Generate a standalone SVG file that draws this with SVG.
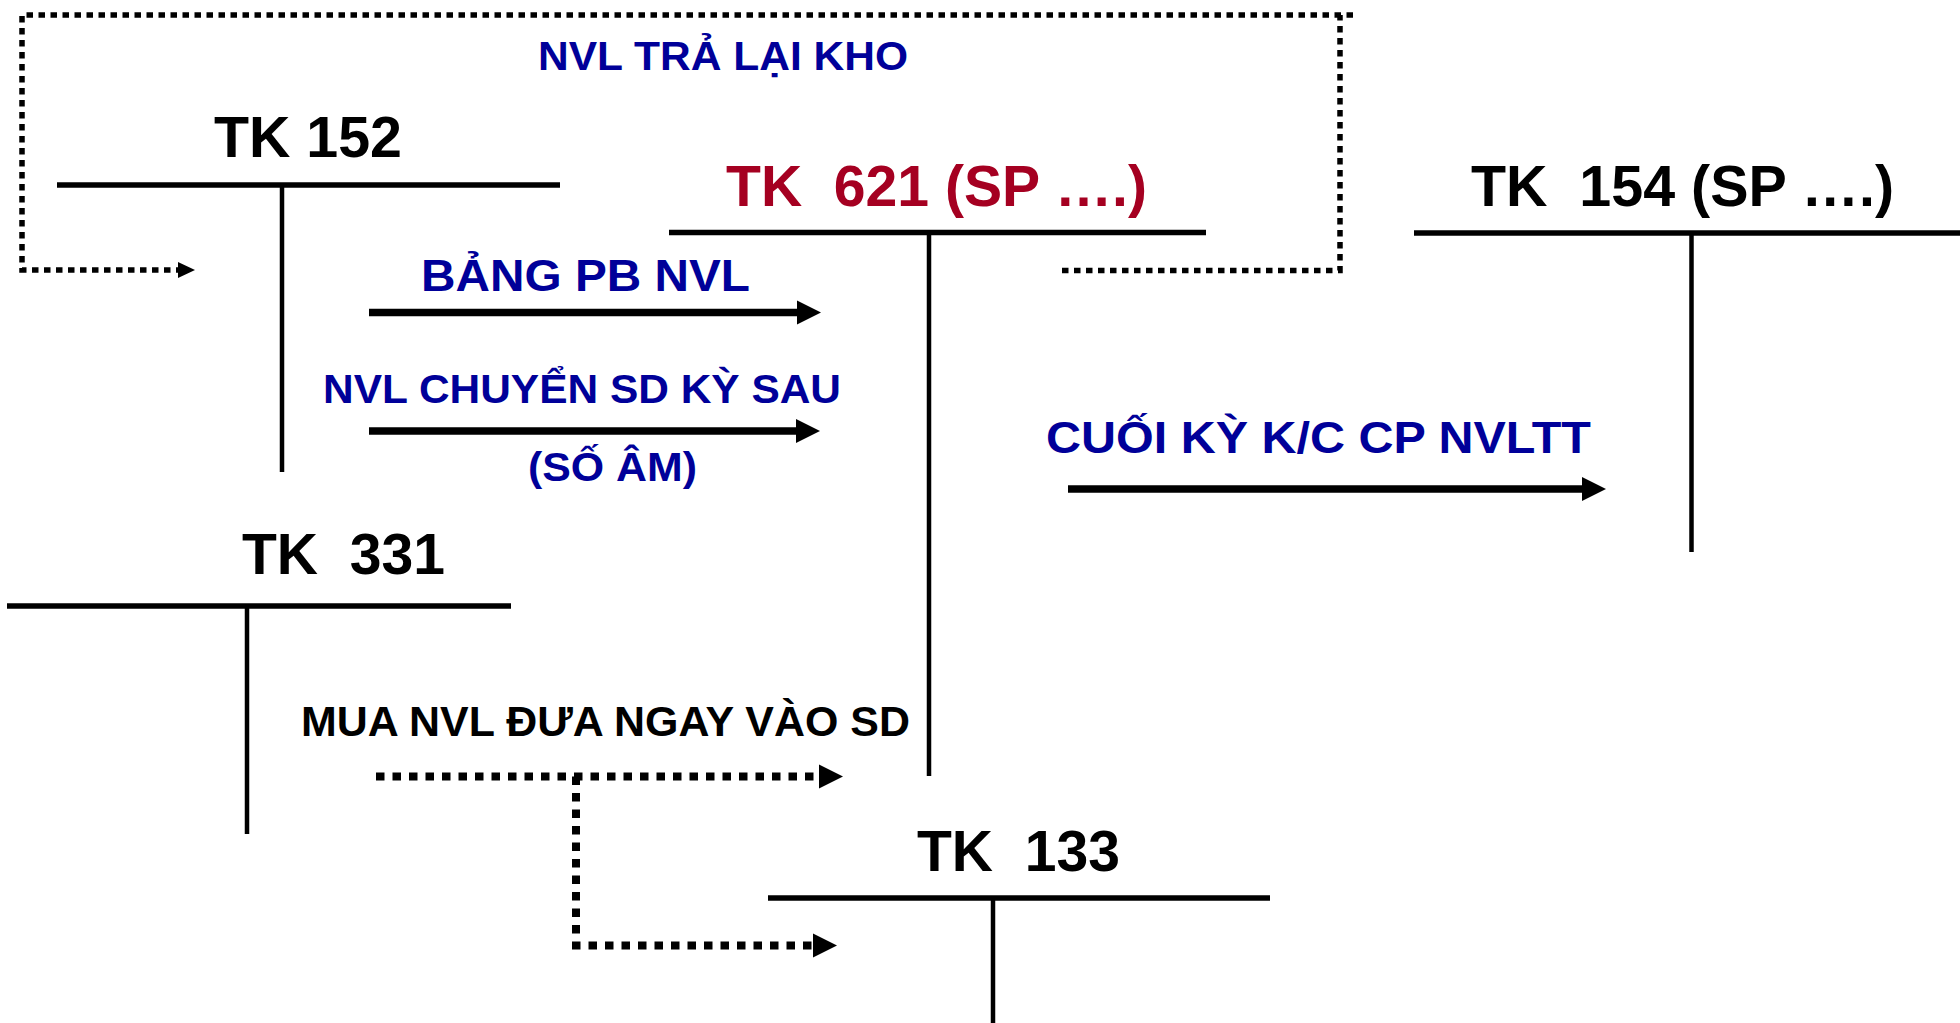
<svg xmlns="http://www.w3.org/2000/svg" width="1960" height="1023" viewBox="0 0 1960 1023">
<style>
text{font-family:"Liberation Sans",Arial,sans-serif;font-weight:bold;white-space:pre}
.tk{font-size:57px;fill:#000}
.red{fill:#A50021}
.lbl{font-size:41px;fill:#000099}
.big{font-size:44px}
.blk{font-size:43px;fill:#000}
.hl{stroke:#000;stroke-width:5.5;fill:none}
.vl{stroke:#000;stroke-width:4.5;fill:none}
.sol{stroke:#000;stroke-width:7.5;fill:none}
.dot1{stroke:#000;stroke-width:5.5;stroke-dasharray:6.5 5.5;fill:none}
.dot2{stroke:#000;stroke-width:8;stroke-dasharray:8.5 8;fill:none}
</style>
<defs>
<marker id="ah" markerUnits="userSpaceOnUse" markerWidth="26" markerHeight="26" refX="0" refY="12" orient="auto" overflow="visible">
<path d="M0,0 L24,12 L0,24 Z" fill="#000"/>
</marker>
<marker id="ahs" markerUnits="userSpaceOnUse" markerWidth="18" markerHeight="18" refX="0" refY="8" orient="auto" overflow="visible">
<path d="M0,0 L17,8 L0,16 Z" fill="#000"/>
</marker>
</defs>
<g id="tk152">
<text class="tk" x="214" y="157" textLength="188" lengthAdjust="spacingAndGlyphs">TK 152</text>
<line class="hl" x1="57" y1="185" x2="560" y2="185"/>
<line class="vl" x1="282" y1="185" x2="282" y2="472"/>
</g>
<g id="tk621">
<text class="tk red" x="726" y="206" textLength="421" lengthAdjust="spacingAndGlyphs">TK  621 (SP ….)</text>
<line class="hl" x1="669" y1="232.5" x2="1206" y2="232.5"/>
<line class="vl" x1="929" y1="232.5" x2="929" y2="776"/>
</g>
<g id="tk154">
<text class="tk" x="1471" y="206" textLength="423" lengthAdjust="spacingAndGlyphs">TK  154 (SP ….)</text>
<line class="hl" x1="1414" y1="233" x2="1960" y2="233"/>
<line class="vl" x1="1691.5" y1="233" x2="1691.5" y2="552"/>
</g>
<g id="tk331">
<text class="tk" x="242" y="574" textLength="203" lengthAdjust="spacingAndGlyphs">TK  331</text>
<line class="hl" x1="7" y1="606" x2="511" y2="606"/>
<line class="vl" x1="247" y1="606" x2="247" y2="834"/>
</g>
<g id="tk133">
<text class="tk" x="917" y="871" textLength="203" lengthAdjust="spacingAndGlyphs">TK  133</text>
<line class="hl" x1="768" y1="898" x2="1270" y2="898"/>
<line class="vl" x1="993" y1="898" x2="993" y2="1023"/>
</g>
<g id="connectors">
<path class="dot1" d="M1353,15 H22 V270 H178" marker-end="url(#ahs)"/>
<path class="dot1" d="M1062,270.5 H1340 V15"/>
<path class="sol" d="M369,312.5 H797" marker-end="url(#ah)"/>
<path class="sol" d="M369,431 H796" marker-end="url(#ah)"/>
<path class="sol" d="M1068,489 H1582" marker-end="url(#ah)"/>
<path class="dot2" d="M376,776.5 H819" marker-end="url(#ah)"/>
<path class="dot2" d="M576,776.5 V945.5 H813" marker-end="url(#ah)"/>
</g>
<g id="labels">
<text class="lbl" x="538" y="70" textLength="370" lengthAdjust="spacingAndGlyphs">NVL TRẢ LẠI KHO</text>
<text class="lbl big" x="421" y="291" textLength="329" lengthAdjust="spacingAndGlyphs">BẢNG PB NVL</text>
<text class="lbl" x="323" y="403" textLength="518" lengthAdjust="spacingAndGlyphs">NVL CHUYỂN SD KỲ SAU</text>
<text class="lbl" x="528" y="481" textLength="169" lengthAdjust="spacingAndGlyphs">(SỐ ÂM)</text>
<text class="lbl big" x="1046" y="453" textLength="545" lengthAdjust="spacingAndGlyphs">CUỐI KỲ K/C CP NVLTT</text>
<text class="blk" x="301" y="736" textLength="609" lengthAdjust="spacingAndGlyphs">MUA NVL ĐƯA NGAY VÀO SD</text>
</g>
</svg>
